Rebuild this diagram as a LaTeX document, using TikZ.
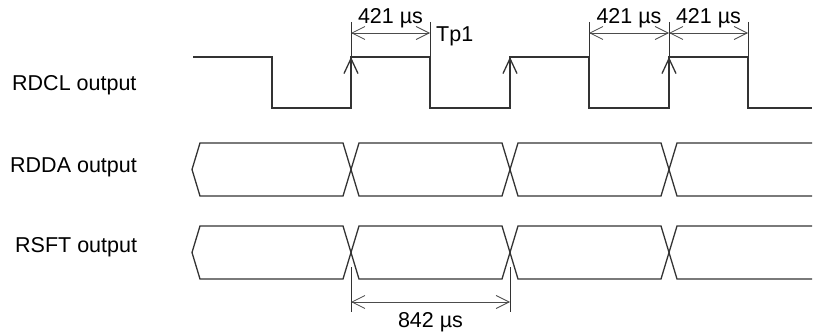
\documentclass[tikz,border=0pt]{standalone}
\usepackage{fontspec}
\setmainfont{Liberation Sans}
\usetikzlibrary{arrows.meta}

\tikzset{
  sig/.style={line width=1.3pt, draw=black!80, line join=miter},
  ext/.style={line width=0.9pt, draw=black!80},
  dim/.style={line width=0.8pt, draw=black!70,
    {Straight Barb[length=13pt,width=13pt]}-{Straight Barb[length=13pt,width=13pt]}},
  edgemark/.style={sig, -{Straight Barb[length=15pt,width=14pt]}},
  lbl/.style={font=\fontsize{21.5}{25}\selectfont, inner sep=0pt},
}

\begin{document}
\begin{tikzpicture}[x=1pt,y=-1pt]
  \useasboundingbox (0,0) rectangle (816,334);

  % signal names
  \node[lbl, anchor=base west](rdcl) at (12, 91)  {RDCL output};
  \node[lbl, anchor=base west](rdda) at (10, 172) {RDDA output};
  \node[lbl, anchor=base west](rsft) at (15, 252) {RSFT output};

  % clock
  \draw[sig] (193,57) -- (272,57) -- (272,108) -- (351,108) -- (351,57)
    -- (430,57) -- (430,108) -- (510,108) -- (510,57) -- (589,57)
    -- (589,108) -- (669,108) -- (669,57) -- (748,57) -- (748,108) -- (812,108);
  \draw[edgemark] (351,85) -- (351,57);
  \draw[edgemark] (510,85) -- (510,57);
  \draw[edgemark] (669,85) -- (669,57);

  % data buses
  \foreach \c in {169.5, 252.5} {
    \foreach \a/\b in {192/351, 351/510, 510/669}
      \draw[sig] (\a+8,\c-26.5) -- (\b-8,\c-26.5) -- (\b,\c) -- (\b-8,\c+26.5)
        -- (\a+8,\c+26.5) -- (\a,\c) -- cycle;
    \draw[sig] (812,\c-26.5) -- (677,\c-26.5) -- (669,\c) -- (677,\c+26.5) -- (812,\c+26.5);
  }

  % timing marks, top
  \coordinate(t1) at (351,33);
  \coordinate(t2) at (430,33);
  \coordinate(t3) at (589,33);
  \coordinate(t4) at (669,33);
  \coordinate(t5) at (748,33);
  \foreach \x in {351,430,589,669,748}
    \draw[ext] (\x,22) -- (\x,57);
  \draw[dim] (t1) -- (t2);
  \draw[dim] (t3) -- (t4);
  \draw[dim] (t4) -- (t5);
  \node[lbl, anchor=base](w1) at (390.5,24) {421 µs};
  \node[lbl, anchor=base](w2) at (629,24)   {421 µs};
  \node[lbl, anchor=base](w3) at (708.5,24) {421 µs};
  \node[lbl, anchor=base west](tp) at (436,42) {Tp1};

  % timing mark, bottom
  \coordinate(b1) at (351,302);
  \coordinate(b2) at (510,302);
  \draw[ext] (351,267) -- (351,312);
  \draw[ext] (510,267) -- (510,312);
  \draw[dim] (b1) -- (b2);
  \node[lbl, anchor=base](per) at (430.5,327) {842 µs};
\end{tikzpicture}
\end{document}
